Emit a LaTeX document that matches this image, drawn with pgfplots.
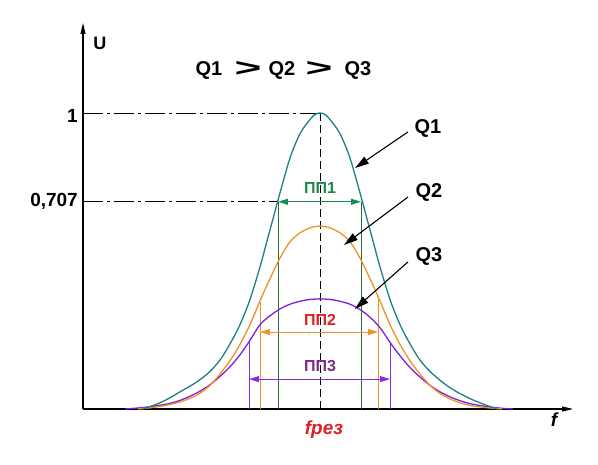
\documentclass[border=0pt]{standalone}
\usepackage{pgfplots}
\pgfplotsset{compat=1.18}
\usepackage{graphicx}
\usepackage{fontspec}
\setmainfont{Liberation Sans}
\usetikzlibrary{arrows.meta}
\definecolor{qone}{HTML}{1E7F80}
\definecolor{qtwo}{HTML}{EE922C}
\definecolor{qthree}{HTML}{7A1FE0}
\definecolor{gline}{HTML}{2A6E30}
\definecolor{garrow}{HTML}{1B8A4E}
\definecolor{plabel}{HTML}{7B2A8E}
\definecolor{rlabel}{HTML}{E01E24}
\definecolor{vline}{HTML}{8A2BE2}

\pgfplotstableread{
x y
-177 0.0
-170 0.008
-160 0.021
-150 0.038
-140 0.058
-130 0.077
-120 0.099
-110 0.127
-100 0.165
-90 0.22
-80 0.285
-70 0.37
-60 0.48
-50 0.605
-40 0.73
-30 0.848
-20 0.93
-10 0.978
-5 0.995
0 1.0
5 0.995
10 0.978
20 0.93
30 0.848
40 0.73
50 0.605
60 0.48
70 0.37
80 0.285
90 0.22
100 0.165
110 0.127
120 0.097
130 0.072
140 0.052
150 0.035
160 0.021
170 0.008
177 0.0
}\qone

\pgfplotstableread{
x y
-182 0.0
-165 0.006
-150 0.015
-140 0.024
-130 0.036
-120 0.053
-110 0.08
-100 0.118
-90 0.163
-80 0.218
-70 0.285
-60 0.365
-50 0.44
-40 0.51
-30 0.565
-20 0.595
-10 0.612
0 0.618
10 0.612
20 0.595
30 0.565
40 0.51
50 0.44
60 0.365
70 0.285
80 0.218
90 0.163
100 0.118
110 0.08
120 0.052
130 0.034
140 0.021
150 0.012
165 0.005
182 0.0
}\qtwo

\pgfplotstableread{
x y
-195 0.0
-180 0.004
-165 0.01
-150 0.019
-140 0.029
-130 0.043
-120 0.06
-110 0.082
-100 0.11
-90 0.143
-80 0.183
-70 0.232
-60 0.285
-50 0.315
-40 0.338
-30 0.354
-20 0.364
-10 0.37
0 0.372
10 0.37
20 0.364
30 0.354
40 0.336
50 0.31
60 0.275
70 0.225
80 0.18
90 0.14
100 0.108
110 0.08
120 0.058
130 0.041
140 0.028
150 0.018
165 0.009
180 0.003
193 0.0
}\qthree

\begin{document}
\begin{tikzpicture}
\path[use as bounding box] (-83pt,-56pt) rectangle (515pt,409pt);
\begin{axis}[
  scale only axis,
  width=490pt, height=386pt,
  xmin=-237, xmax=253, ymin=0, ymax=1.304,
  axis lines=left,
  axis line style={line width=1.1pt},
  x axis line style={-{Triangle[length=11pt,width=5pt]}},
  y axis line style={-{Triangle[length=11pt,width=5pt]}},
  xtick=\empty, ytick=\empty,
  clip=false,
]
% reference lines
\addplot[black, line width=0.7pt, dash pattern=on 20pt off 4pt on 3pt off 4pt] coordinates {(-237,1) (0,1)};
\addplot[black, line width=0.7pt, dash pattern=on 20pt off 4pt on 3pt off 4pt] coordinates {(-237,0.7) (-42,0.7)};
\addplot[black, line width=0.8pt, dash pattern=on 8pt off 4pt] coordinates {(0,1) (0,0)};

% bandwidth verticals
\addplot[gline, line width=0.8pt] coordinates {(-42,0.7) (-42,0)};
\addplot[gline, line width=0.8pt] coordinates {(41,0.7) (41,0)};
\addplot[qtwo, line width=0.8pt] coordinates {(-60,0.36) (-60,0)};
\addplot[qtwo, line width=0.8pt] coordinates {(58,0.37) (58,0)};
\addplot[vline, line width=0.8pt] coordinates {(-71,0.225) (-71,0)};
\addplot[vline, line width=0.8pt] coordinates {(70,0.225) (70,0)};

% bandwidth arrows
\addplot[garrow, line width=0.9pt, {Triangle[length=10pt,width=6pt]}-{Triangle[length=10pt,width=6pt]}] coordinates {(-42,0.7) (41,0.7)};
\addplot[qtwo, line width=0.9pt, {Triangle[length=10pt,width=6pt]}-{Triangle[length=10pt,width=6pt]}] coordinates {(-60,0.26) (58,0.26)};
\addplot[vline, line width=0.9pt, {Triangle[length=10pt,width=6pt]}-{Triangle[length=10pt,width=6pt]}] coordinates {(-71,0.101) (70,0.101)};

% curves
\addplot[qthree, line width=1.3pt, smooth] table {\qthree};
\addplot[qtwo, line width=1.3pt, smooth] table {\qtwo};
\addplot[qone, line width=1.3pt, smooth] table {\qone};

% annotations
\node[font=\fontsize{18}{18}\selectfont\bfseries] at (axis cs:-220,1.236) {U};
\node[font=\fontsize{20}{20}\selectfont\bfseries] at (axis cs:-111,1.145) {Q1};
\node[font=\fontsize{20}{20}\selectfont\bfseries] at (axis cs:-72,1.15) {\scalebox{2.3}[1.25]{>}};
\node[font=\fontsize{20}{20}\selectfont\bfseries] at (axis cs:-38,1.145) {Q2};
\node[font=\fontsize{20}{20}\selectfont\bfseries] at (axis cs:-1,1.15) {\scalebox{2.3}[1.25]{>}};
\node[font=\fontsize{20}{20}\selectfont\bfseries] at (axis cs:38,1.145) {Q3};
\node[font=\fontsize{19}{19}\selectfont\bfseries, anchor=east, inner sep=0pt] at (axis cs:-242,0.99) {1};
\node[font=\fontsize{19}{19}\selectfont\bfseries, anchor=east, inner sep=0pt] at (axis cs:-242,0.703) {0,707};
\node[font=\fontsize{20}{20}\selectfont\bfseries] at (axis cs:108,0.949) {Q1};
\node[font=\fontsize{20}{20}\selectfont\bfseries] at (axis cs:109,0.730) {Q2};
\node[font=\fontsize{20}{20}\selectfont\bfseries] at (axis cs:109,0.514) {Q3};
\draw[line width=1.1pt, -{Triangle[length=14pt,width=8pt]}] (axis cs:88,0.936) -- (axis cs:35,0.814);
\draw[line width=1.1pt, -{Triangle[length=14pt,width=8pt]}] (axis cs:88,0.716) -- (axis cs:24,0.554);
\draw[line width=1.1pt, -{Triangle[length=14pt,width=8pt]}] (axis cs:88,0.497) -- (axis cs:35,0.338);
\node[font=\fontsize{16}{16}\selectfont\bfseries, text=garrow] at (axis cs:0,0.747) {ПП1};
\node[font=\fontsize{16}{16}\selectfont\bfseries, text=rlabel] at (axis cs:0,0.30) {ПП2};
\node[font=\fontsize{16}{16}\selectfont\bfseries, text=plabel] at (axis cs:0,0.145) {ПП3};
\node[font=\fontsize{19}{19}\selectfont\bfseries\itshape] at (axis cs:234,-0.037) {f};
\node[font=\fontsize{19}{19}\selectfont\bfseries\itshape, text=rlabel] at (axis cs:4,-0.068) {fрез};
\end{axis}
\end{tikzpicture}
\end{document}
